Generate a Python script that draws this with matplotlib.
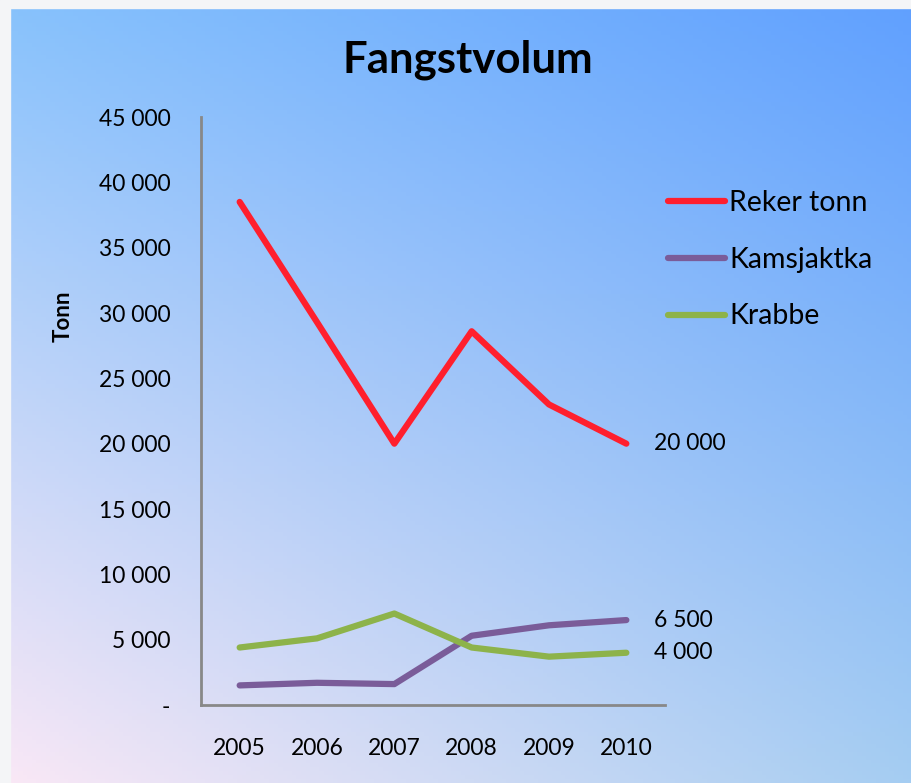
import numpy as np
import matplotlib.pyplot as plt
from matplotlib.patches import Rectangle

plt.rcParams['font.family'] = ['Lato', 'DejaVu Sans']

years = ['2005', '2006', '2007', '2008', '2009', '2010']
reker = [38500, 29300, 20000, 28600, 23000, 20000]
kamsjaktka = [1500, 1700, 1600, 5300, 6100, 6500]
krabbe = [4400, 5100, 7000, 4400, 3700, 4000]
end_labels = ['20 000', '6 500', '4 000']

fig = plt.figure(figsize=(9.12, 7.83), dpi=100)

# bakgrunn med gradient
bg = fig.add_axes([0, 0, 1, 1])
h, w = 200, 200
yy, xx = np.mgrid[0:1:h * 1j, 0:1:w * 1j]
tl = np.array([135, 194, 252]) / 255
tr = np.array([96, 160, 255]) / 255
bl = np.array([250, 232, 246]) / 255
br = np.array([165, 205, 242]) / 255
img = ((1 - yy)[..., None] * ((1 - xx)[..., None] * tl + xx[..., None] * tr)
       + yy[..., None] * ((1 - xx)[..., None] * bl + xx[..., None] * br))
bg.imshow(img, extent=[0, 1, 0, 1], aspect='auto', origin='upper')
bg.add_patch(Rectangle((0, 0), 10 / 912, 1, color='#f4f5f7', zorder=3))
bg.add_patch(Rectangle((0, 1 - 8 / 783), 1, 8 / 783, color='#f4f5f7', zorder=3))
bg.set_xlim(0, 1)
bg.set_ylim(0, 1)
bg.axis('off')

ax = fig.add_axes([201 / 912, 78 / 783, 464 / 912, 588 / 783])
ax.patch.set_alpha(0)
x = np.arange(len(years))
l1, = ax.plot(x, reker, color='#ff1f2d', lw=4.5, solid_capstyle='round', label='Reker tonn')
l2, = ax.plot(x, kamsjaktka, color='#7a5c99', lw=4.5, solid_capstyle='round', label='Kamsjaktka')
l3, = ax.plot(x, krabbe, color='#8db34a', lw=4.5, solid_capstyle='round', label='Krabbe')

for vals, txt in zip([reker, kamsjaktka, krabbe], end_labels):
    ax.annotate(txt, (x[-1], vals[-1]), xytext=(20, 0), textcoords='offset points',
                va='center', ha='left', fontsize=16.5, annotation_clip=False)

ax.set_xlim(-0.5, len(years) - 0.5)
ax.set_ylim(0, 45000)
ax.set_yticks(range(0, 45001, 5000))
ax.set_yticklabels(['-'] + [f'{v:,}'.replace(',', ' ') for v in range(5000, 45001, 5000)])
ax.set_xticks(x)
ax.set_xticklabels(years)
ax.tick_params(axis='y', length=0, pad=22, labelsize=16.5)
ax.tick_params(axis='x', length=0, pad=24, labelsize=16.5)
for s in ['top', 'right']:
    ax.spines[s].set_visible(False)
for s in ['left', 'bottom']:
    ax.spines[s].set_color('#888888')
    ax.spines[s].set_linewidth(2)

fig.text(63 / 912, 1 - 316 / 783, 'Tonn', rotation=90, ha='center', va='center',
         fontsize=16, fontweight='bold')
fig.text(468 / 912, 1 - 60 / 783, 'Fangstvolum', ha='center', va='center',
         fontsize=31.5, fontweight='bold')

fig.legend(handles=[l1, l2, l3], loc='upper left', bbox_to_anchor=(668 / 912, 1 - 190 / 783),
           frameon=False, fontsize=20.5, handlelength=2.0, handletextpad=0.15,
           labelspacing=1.08, borderpad=0, borderaxespad=0)

fig.savefig('out.png', dpi=100)
